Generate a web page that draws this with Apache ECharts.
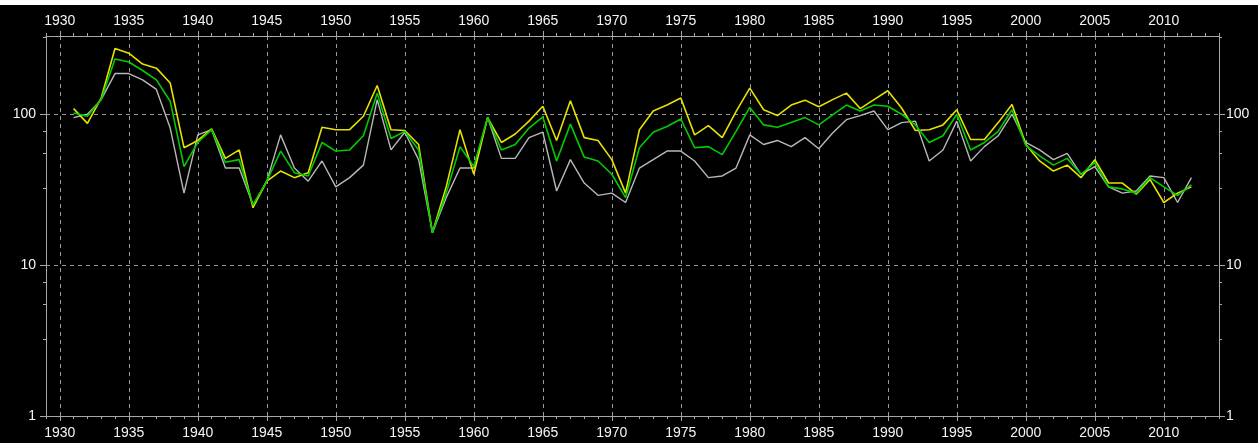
<!DOCTYPE html>
<html><head><meta charset="utf-8">
<script src="https://cdn.jsdelivr.net/npm/echarts@6/dist/echarts.min.js"></script>
<style>
html,body{margin:0;padding:0;background:#fff;width:1258px;height:443px;overflow:hidden;}
#c{position:absolute;left:0;top:5px;width:1258px;height:438px;background:#000;}
</style>
</head><body><div id="c"></div>
<script>
const years = [1931,1932,1933,1934,1935,1936,1937,1938,1939,1940,
  1941,1942,1943,1944,1945,1946,1947,1948,1949,1950,
  1951,1952,1953,1954,1955,1956,1957,1958,1959,1960,
  1961,1962,1963,1964,1965,1966,1967,1968,1969,1970,
  1971,1972,1973,1974,1975,1976,1977,1978,1979,1980,
  1981,1982,1983,1984,1985,1986,1987,1988,1989,1990,
  1991,1992,1993,1994,1995,1996,1997,1998,1999,2000,
  2001,2002,2003,2004,2005,2006,2007,2008,2009,2010,
  2011,2012];

const yellowSeries = [109,87,128,273,254,215,202,161,60,67,
  80,51,58,24,36,42,38,41,82,79,
  79,97,155,79,78,63,16.4,33,79,40,
  95,65,74,90,113,67,123,70,67,50,
  30,79,105,115,128,73,84,70,104,149,
  107,98,115,124,112,125,138,109,125,143,
  110,78,79,85,107,68,68,88,116,63,
  49,42,46,38,50,35,35,29.5,37,26,
  30,33];

const greenSeries = [102,97,125,232,222,195,169,122,45,65,
  79,48,50,25,36,57,41,39,65,57,
  58,72,138,69,77,58,16.4,30,61,45,
  95,58,63,81,96,49,86,52,49,40,
  28,60,76,83,93,60,61,54,77,111,
  85,82,88,95,85,99,115,105,115,113,
  100,85,65,72,100,58,65,77,107,62,
  53,46,51,40,48,33,32,30,38,33,
  29,34];

const graySeries = [95,100,125,186,186,169,146,81,30,73,
  79,44,44,25,36,73,44,36,49,33,
  38,46,125,58,76,50,16.4,28,44,44,
  95,51,51,70,76,31,50,35,29,30,
  26,44,50,57,57,49,38,39,44,73,
  63,67,61,70,59,75,92,98,105,79,
  88,90,49,58,90,49,61,72,100,65,
  58,50,55,40,45,33,30,31,39,38,
  26,38];

const xTickLabels = [1930,1935,1940,1945,1950,1955,1960,1965,1970,1975,1980,1985,1990,1995,2000,2005,2010];
const xMinorTicks = [1929,1930,1931,1932,1933,1934,1935,1936,1937,1938,1939,1940,1941,1942,1943,1944,1945,1946,1947,1948,1949,1950,1951,1952,1953,1954,1955,1956,1957,1958,1959,1960,1961,1962,1963,1964,1965,1966,1967,1968,1969,1970,1971,1972,1973,1974,1975,1976,1977,1978,1979,1980,1981,1982,1983,1984,1985,1986,1987,1988,1989,1990,1991,1992,1993,1994,1995,1996,1997,1998,1999,2000,2001,2002,2003,2004,2005,2006,2007,2008,2009,2010,2011,2012,2013,2014];
const yTickLabels = [1,10,100];
const yMinorTicks = [3.25,5.5,7.75,32.5,55,77.5,325];

const X_MIN = 1929, X_MAX = 2014, Y_MIN = 1, Y_MAX = 330;
const AXIS_COLOR = '#a8a8a8';
const GRID_COLOR = '#9a9a9a';
const TEXT_COLOR = '#f4f4f4';
const FONT = 'Liberation Sans';
const FS = 14;

const pairs = vals => years.map((y, i) => [y, vals[i]]);

function xAxisDef(pos, major) {
  return {
    type: 'value', min: X_MIN, max: X_MAX, position: pos,
    axisLine: { show: major, onZero: false, lineStyle: { color: AXIS_COLOR, width: 1 } },
    axisTick: { show: true, inside: false, length: major ? 5 : 3, customValues: major ? xTickLabels : xMinorTicks,
      lineStyle: { color: AXIS_COLOR, width: 1 } },
    axisLabel: { show: major, customValues: xTickLabels, color: TEXT_COLOR, fontFamily: FONT, fontSize: FS,
      margin: pos === 'top' ? 8 : 10, formatter: v => String(v) },
    splitLine: { show: major && pos === 'bottom', lineStyle: { color: GRID_COLOR, type: [4, 4], width: 1 } }
  };
}
function yAxisDef(pos, major) {
  return {
    type: 'log', logBase: 10, min: Y_MIN, max: Y_MAX, position: pos,
    axisLine: { show: major, onZero: false, lineStyle: { color: AXIS_COLOR, width: 1 } },
    axisTick: { show: true, inside: false, length: major ? 6 : 3, customValues: major ? yTickLabels : yMinorTicks,
      lineStyle: { color: AXIS_COLOR, width: 1 } },
    axisLabel: { show: major, customValues: yTickLabels, color: TEXT_COLOR, fontFamily: FONT, fontSize: FS,
      margin: pos === 'left' ? 10 : 7, formatter: v => String(Math.round(v)) },
    splitLine: { show: major && pos === 'left', lineStyle: { color: GRID_COLOR, type: [4, 4], width: 1 } }
  };
}

const chart = echarts.init(document.getElementById('c'), null, { renderer: 'canvas' });
chart.setOption({
  backgroundColor: '#000',
  animation: false,
  grid: { left: 46, right: 39, top: 31, bottom: 27, containLabel: false },
  xAxis: [xAxisDef('bottom', true), xAxisDef('top', true), xAxisDef('bottom', false), xAxisDef('top', false)],
  yAxis: [yAxisDef('left', true), yAxisDef('right', true), yAxisDef('left', false), yAxisDef('right', false)],
  series: [
    { name: 'gray', type: 'line', data: pairs(graySeries), symbol: 'none', silent: true,
      lineStyle: { color: '#b8b8b8', width: 1.4 }, xAxisIndex: 0, yAxisIndex: 0 },
    { name: 'yellow', type: 'line', data: pairs(yellowSeries), symbol: 'none', silent: true,
      lineStyle: { color: '#e6e200', width: 1.6 }, xAxisIndex: 0, yAxisIndex: 0 },
    { name: 'green', type: 'line', data: pairs(greenSeries), symbol: 'none', silent: true,
      lineStyle: { color: '#00cc00', width: 1.6 }, xAxisIndex: 0, yAxisIndex: 0 }
  ]
});
</script>
</body></html>
